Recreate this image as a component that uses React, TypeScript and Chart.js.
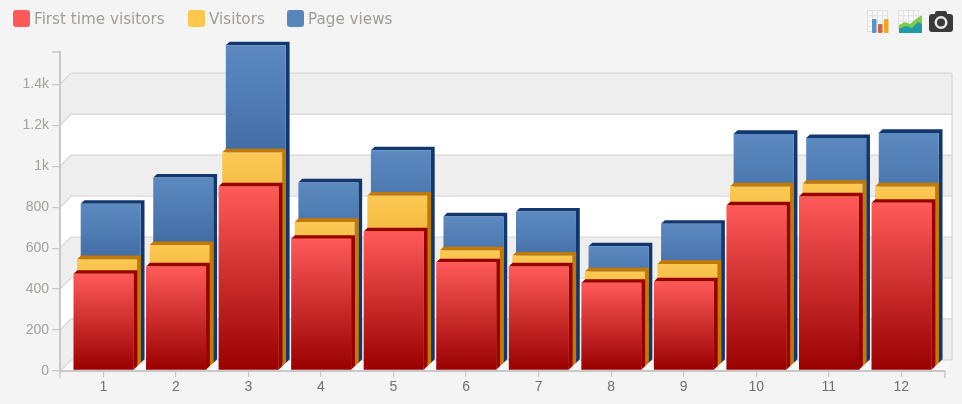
import React, { useEffect, useRef } from "react";
import { Chart, registerables } from "chart.js";

Chart.register(...registerables);

const categories = [1, 2, 3, 4, 5, 6, 7, 8, 9, 10, 11, 12];
const firstTimeVisitors = [471, 507, 898, 642, 678, 527, 507, 427, 434, 805, 849, 818];
const visitors = [526, 595, 1048, 708, 837, 569, 544, 466, 503, 881, 894, 881];
const pageViews = [780, 908, 1554, 884, 1041, 718, 742, 572, 682, 1121, 1101, 1126];
const yTicks = [0, 200, 400, 600, 800, 1000, 1200, 1400];
const yTickLabels = ["0", "200", "400", "600", "800", "1k", "1.2k", "1.4k"];
const seriesNames = ["First time visitors", "Visitors", "Page views"];
const legendColors = ["#ff5a5a", "#fdc64f", "#5a87ba"];
const topColors = ["#ff5a5a", "#fdc953", "#5c8ac0"];
const bottomColors = ["#990000", "#c98500", "#12376f"];
const depthColors = ["#990000", "#c47900", "#12376f"];
const seriesShiftX = [0.2, 3.8, 7.4];
const seriesShiftY = [-0.7, -4.1, -7.5];
const legendBoxX = [13, 188, 287];
const legendTextX = [34, 209, 308];

const faceDepthX = 3.8;
const faceDepthY = 3.6;
const wallDepthX = 11;
const wallDepthY = 11;
const wallRightX = 952;

const rr = (c: CanvasRenderingContext2D, x: number, y: number, w: number, h: number, r: number) => {
  c.beginPath();
  c.roundRect(x, y, w, h, r);
};

const poly = (c: CanvasRenderingContext2D, pts: number[][]) => {
  c.beginPath();
  pts.forEach((p, i) => (i ? c.lineTo(p[0], p[1]) : c.moveTo(p[0], p[1])));
  c.closePath();
};

const drawIcons = (c: CanvasRenderingContext2D) => {
  const grid = (x: number, y: number, w: number, h: number) => {
    c.fillStyle = "#f8f8f8";
    c.fillRect(x, y, w, h);
    c.strokeStyle = "#e0e0e0";
    c.lineWidth = 1;
    for (let i = 0; i <= 4; i++) {
      c.beginPath();
      c.moveTo(x + (w * i) / 4, y);
      c.lineTo(x + (w * i) / 4, y + h);
      c.stroke();
      c.beginPath();
      c.moveTo(x, y + (h * i) / 4);
      c.lineTo(x + w, y + (h * i) / 4);
      c.stroke();
    }
  };
  grid(867.5, 10.5, 20, 21);
  c.fillStyle = "#5b93c7";
  rr(c, 872, 19, 4.5, 14, 1);
  c.fill();
  c.fillStyle = "#d9603c";
  rr(c, 878, 24, 4.5, 9, 1);
  c.fill();
  c.fillStyle = "#efa51f";
  rr(c, 884, 19, 4.5, 14, 1);
  c.fill();

  grid(898.5, 10.5, 20, 21);
  c.fillStyle = "#7ccb4a";
  poly(c, [[899, 33], [899, 25], [905, 22], [910, 24], [916, 19], [922, 15], [922, 33]]);
  c.fill();
  c.fillStyle = "#1f9aa6";
  poly(c, [[899, 33], [899, 29], [906, 26], [912, 28], [918, 22], [922, 24], [922, 33]]);
  c.fill();

  c.fillStyle = "#3a3a3a";
  rr(c, 929, 14, 24, 18, 3);
  c.fill();
  rr(c, 935, 11, 12, 5, 2);
  c.fill();
  c.fillStyle = "#e8e8e8";
  c.beginPath();
  c.arc(941, 22.5, 6.5, 0, Math.PI * 2);
  c.fill();
  c.fillStyle = "#3a3a3a";
  c.beginPath();
  c.arc(941, 22.5, 4, 0, Math.PI * 2);
  c.fill();
};

const scenePlugin = {
  id: "scene",
  beforeDraw(chart: any) {
    const { ctx: c, scales } = chart;
    const y = scales.y;
    const area = chart.chartArea;
    c.save();
    c.fillStyle = "#f4f4f4";
    c.fillRect(0, 0, chart.width, chart.height);

    const left = area.left;
    const right = area.right;
    const backLeft = left + wallDepthX;

    // floor
    const y0 = y.getPixelForValue(0);
    c.fillStyle = "#f8f8f8";
    poly(c, [[left, y0], [backLeft, y0 - wallDepthY], [wallRightX, y0 - wallDepthY], [right, y0]]);
    c.fill();

    // alternating wall bands, following the axis ticks
    for (let i = 0; i < yTicks.length - 1; i++) {
      const yb = y.getPixelForValue(yTicks[i]);
      const yt = y.getPixelForValue(yTicks[i + 1]);
      c.fillStyle = i % 2 === 0 ? "#eeeeee" : "#ffffff";
      poly(c, [[left, yb], [backLeft, yb - wallDepthY], [wallRightX, yb - wallDepthY], [wallRightX, yt - wallDepthY], [backLeft, yt - wallDepthY], [left, yt]]);
      c.fill();
    }

    c.strokeStyle = "#dadada";
    c.lineWidth = 1.4;
    yTicks.forEach((v) => {
      const py = y.getPixelForValue(v);
      c.beginPath();
      c.moveTo(left, py);
      c.lineTo(backLeft, py - wallDepthY);
      c.lineTo(wallRightX, py - wallDepthY);
      c.stroke();
    });
    const yTop = y.getPixelForValue(yTicks[yTicks.length - 1]);
    c.beginPath();
    c.moveTo(wallRightX, yTop - wallDepthY);
    c.lineTo(wallRightX, y0 - wallDepthY);
    c.stroke();

    // axis end caps
    c.strokeStyle = "#c8c8c8";
    c.lineWidth = 1.5;
    c.beginPath();
    c.moveTo(left - 8, area.top);
    c.lineTo(left, area.top);
    c.moveTo(left, area.bottom);
    c.lineTo(left, area.bottom + 7);
    c.moveTo(right, area.bottom);
    c.lineTo(right, area.bottom + 7);
    c.stroke();

    // legend
    c.textBaseline = "middle";
    c.textAlign = "left";
    c.font = "15.2px 'DejaVu Sans'";
    chart.data.datasets.forEach((d: any, i: number) => {
      c.fillStyle = legendColors[i];
      rr(c, legendBoxX[i], 10, 17, 17, 3);
      c.fill();
      c.fillStyle = "#a09c98";
      c.fillText(d.label, legendTextX[i], 20);
    });

    drawIcons(c);
    c.restore();
  },
  beforeDatasetDraw(chart: any, args: any) {
    const i = args.index;
    const c = chart.ctx;
    c.save();
    c.translate(seriesShiftX[i], seriesShiftY[i]);
    c.fillStyle = depthColors[i];
    args.meta.data.forEach((bar: any) => {
      const { x, y, base, width } = bar.getProps(["x", "y", "base", "width"], true);
      const l = x - width / 2;
      const r = x + width / 2;
      poly(c, [[l, y], [l + faceDepthX, y - faceDepthY], [r + faceDepthX, y - faceDepthY], [r + faceDepthX, base - faceDepthY], [r, base], [r, y]]);
      c.fill();
    });
  },
  afterDatasetDraw(chart: any) {
    chart.ctx.restore();
  },
};

const gradientFor = (i: number) => (ctx: any) => {
  const { chart, parsed } = ctx;
  if (!parsed || !chart.scales.y) return topColors[i];
  const top = chart.scales.y.getPixelForValue(parsed.y);
  const bottom = chart.scales.y.getPixelForValue(0);
  if (!Number.isFinite(top) || !Number.isFinite(bottom)) return topColors[i];
  const g = chart.ctx.createLinearGradient(0, top, 0, bottom);
  g.addColorStop(0, topColors[i]);
  g.addColorStop(1, bottomColors[i]);
  return g;
};

const series = [firstTimeVisitors, visitors, pageViews];

export default function App() {
  const ref = useRef<HTMLCanvasElement>(null);
  useEffect(() => {
    const chart = new Chart(ref.current as HTMLCanvasElement, {
      type: "bar",
      data: {
        datasets: series.map((values, i) => ({
          label: seriesNames[i],
          data: values.map((v, k) => ({ x: categories[k], y: v })),
          backgroundColor: gradientFor(i),
          barThickness: 60,
          borderWidth: 0,
          inflateAmount: 0,
          grouped: false,
          clip: false,
        })),
      } as any,
      plugins: [scenePlugin],
      options: {
        responsive: false,
        animation: false,
        events: [],
        layout: { autoPadding: false, padding: { left: 0, right: 17, top: 52, bottom: 0 } },
        plugins: { legend: { display: false }, tooltip: { enabled: false } },
        scales: {
          x: {
            type: "linear",
            offset: false,
            min: 0.403,
            max: 12.602,
            afterBuildTicks: (s: any) => {
              s.ticks = categories.map((v) => ({ value: v }));
            },
            afterFit: (s: any) => {
              s.height = 33;
            },
            ticks: {
              autoSkip: false,
              maxRotation: 0,
              padding: 2,
              color: "#707070",
              font: { family: "'Liberation Sans'", size: 14 },
              callback: (v: any) => String(v),
            },
            grid: { offset: false, drawOnChartArea: false, color: "#c8c8c8", tickLength: 6, lineWidth: 1.2 },
            border: { color: "#c8c8c8", width: 2 },
          },
          y: {
            type: "linear",
            min: 0,
            max: 1557.6,
            afterBuildTicks: (s: any) => {
              s.ticks = yTicks.map((v) => ({ value: v }));
            },
            afterFit: (s: any) => {
              s.width = 60;
            },
            ticks: {
              padding: 3,
              color: "#a5a09b",
              font: { family: "'Liberation Sans'", size: 14 },
              callback: (v: any) => yTickLabels[yTicks.indexOf(v)],
            },
            grid: { drawOnChartArea: false, color: "#c8c8c8", tickLength: 8, lineWidth: 1.2 },
            border: { color: "#c8c8c8", width: 2 },
          },
        },
      } as any,
    });
    return () => chart.destroy();
  }, []);
  return (
    <div style={{ position: "fixed", left: 0, top: 0, width: 962, height: 404, background: "#f4f4f4" }}>
      <canvas ref={ref} width={962} height={404} style={{ display: "block" }} />
    </div>
  );
}
